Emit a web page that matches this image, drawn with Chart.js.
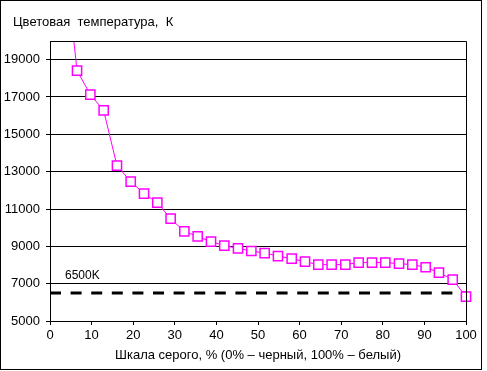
<!DOCTYPE html>
<html>
<head>
<meta charset="utf-8">
<script src="https://cdn.jsdelivr.net/npm/chart.js@4/dist/chart.umd.min.js"></script>
<style>
  body { margin: 0; background: #fff; }
  canvas { display: block; }
</style>
</head>
<body>
<canvas id="chart" width="487" height="371"></canvas>
<script>
(function() {

  // gray level, % (0% - black, 100% - white)
  const grayLevels = [3.2, 6.5, 9.7, 12.9, 16.1, 19.4, 22.6, 25.8, 29.0, 32.3, 35.5,
    38.7, 41.9, 45.2, 48.4, 51.6, 54.8, 58.1, 61.3, 64.5, 67.7, 71.0, 74.2, 77.4,
    80.6, 83.9, 87.1, 90.3, 93.5, 96.8, 100];
  // colour temperature, K
  const colorTemp = [25200, 18410, 17130, 16280, 13320, 12470, 11820, 11340, 10480, 9800, 9530,
    9250, 9040, 8890, 8750, 8640, 8480, 8340, 8180, 8020, 8020, 8020, 8130, 8130,
    8130, 8070, 8020, 7880, 7590, 7220, 6310];
  const refTemp = 6500;
  const refLabel = '6500K';
  const yTicks = [5000, 7000, 9000, 11000, 13000, 15000, 17000, 19000];
  const title = 'Цветовая  температура,  К';
  const xTitle = 'Шкала серого, % (0% – черный, 100% – белый)';

  const font = 'Liberation Sans, Arial, sans-serif';
  Chart.defaults.color = '#000';
  Chart.defaults.font.family = font;
  Chart.defaults.font.size = 13;

  const points = grayLevels.map((x, i) => ({ x: x, y: colorTemp[i] }));

  const decor = {
    id: 'decor',
    beforeDraw(chart) {
      const c = chart.ctx;
      c.save();
      c.fillStyle = '#fff';
      c.fillRect(0, 0, chart.width, chart.height);
      c.restore();
    },
    afterDraw(chart) {
      const c = chart.ctx;
      const a = chart.chartArea;
      const xs = chart.scales.x, ys = chart.scales.y;
      c.save();
      c.strokeStyle = '#000';
      c.lineWidth = 1;
      c.beginPath();
      c.moveTo(Math.round(a.left), Math.round(a.top) + 0.5);
      c.lineTo(Math.round(a.right) + 0.5, Math.round(a.top) + 0.5);
      c.lineTo(Math.round(a.right) + 0.5, Math.round(a.bottom));
      c.stroke();
      c.strokeRect(0.5, 0.5, 481, 369);
      c.fillStyle = '#000';
      c.font = '13px ' + font;
      c.textBaseline = 'alphabetic';
      c.fillText(title, 13, 26);
      c.font = '12px ' + font;
      c.fillText(refLabel, xs.getPixelForValue(3.6), ys.getPixelForValue(7000) - 5);
      c.restore();
    }
  };

  new Chart(document.getElementById('chart'), {
    type: 'line',
    data: {
      datasets: [{
        data: points,
        borderColor: '#ff00ff',
        borderWidth: 1,
        pointStyle: 'rect',
        pointRadius: 6.5,
        pointBorderWidth: 1.5,
        pointBorderColor: '#ff00ff',
        pointBackgroundColor: '#fff',
        tension: 0,
        clip: { left: 10, right: 10, top: 0, bottom: 10 }
      }, {
        data: [{ x: 0, y: refTemp }, { x: 100, y: refTemp }],
        borderColor: '#000',
        borderWidth: 3,
        borderDash: [11, 9.6],
        pointRadius: 0
      }]
    },
    options: {
      responsive: false,
      animation: false,
      layout: { padding: { top: 41, right: 21, left: 0, bottom: 0 } },
      plugins: {
        legend: { display: false },
        tooltip: { enabled: false }
      },
      scales: {
        x: {
          type: 'linear',
          min: 0,
          max: 100,
          ticks: { stepSize: 10, padding: 3, maxRotation: 0 },
          grid: { drawOnChartArea: false, color: '#000', tickLength: 4 },
          border: { color: '#000', width: 1 },
          title: {
            display: true,
            text: xTitle,
            font: { size: 13 },
            padding: { top: 0, bottom: 8 }
          },
          afterFit(scale) { scale.height = 50; }
        },
        y: {
          type: 'linear',
          min: 5000,
          max: 20000,
          ticks: { stepSize: 2000, padding: 6, callback: v => String(v) },
          afterBuildTicks(scale) { scale.ticks = yTicks.map(v => ({ value: v })); },
          grid: { color: '#000', tickLength: 4 },
          border: { color: '#000', width: 1 },
          afterFit(scale) { scale.width = 50; }
        }
      }
    },
    plugins: [decor]
  });

})();
</script>
</body>
</html>
